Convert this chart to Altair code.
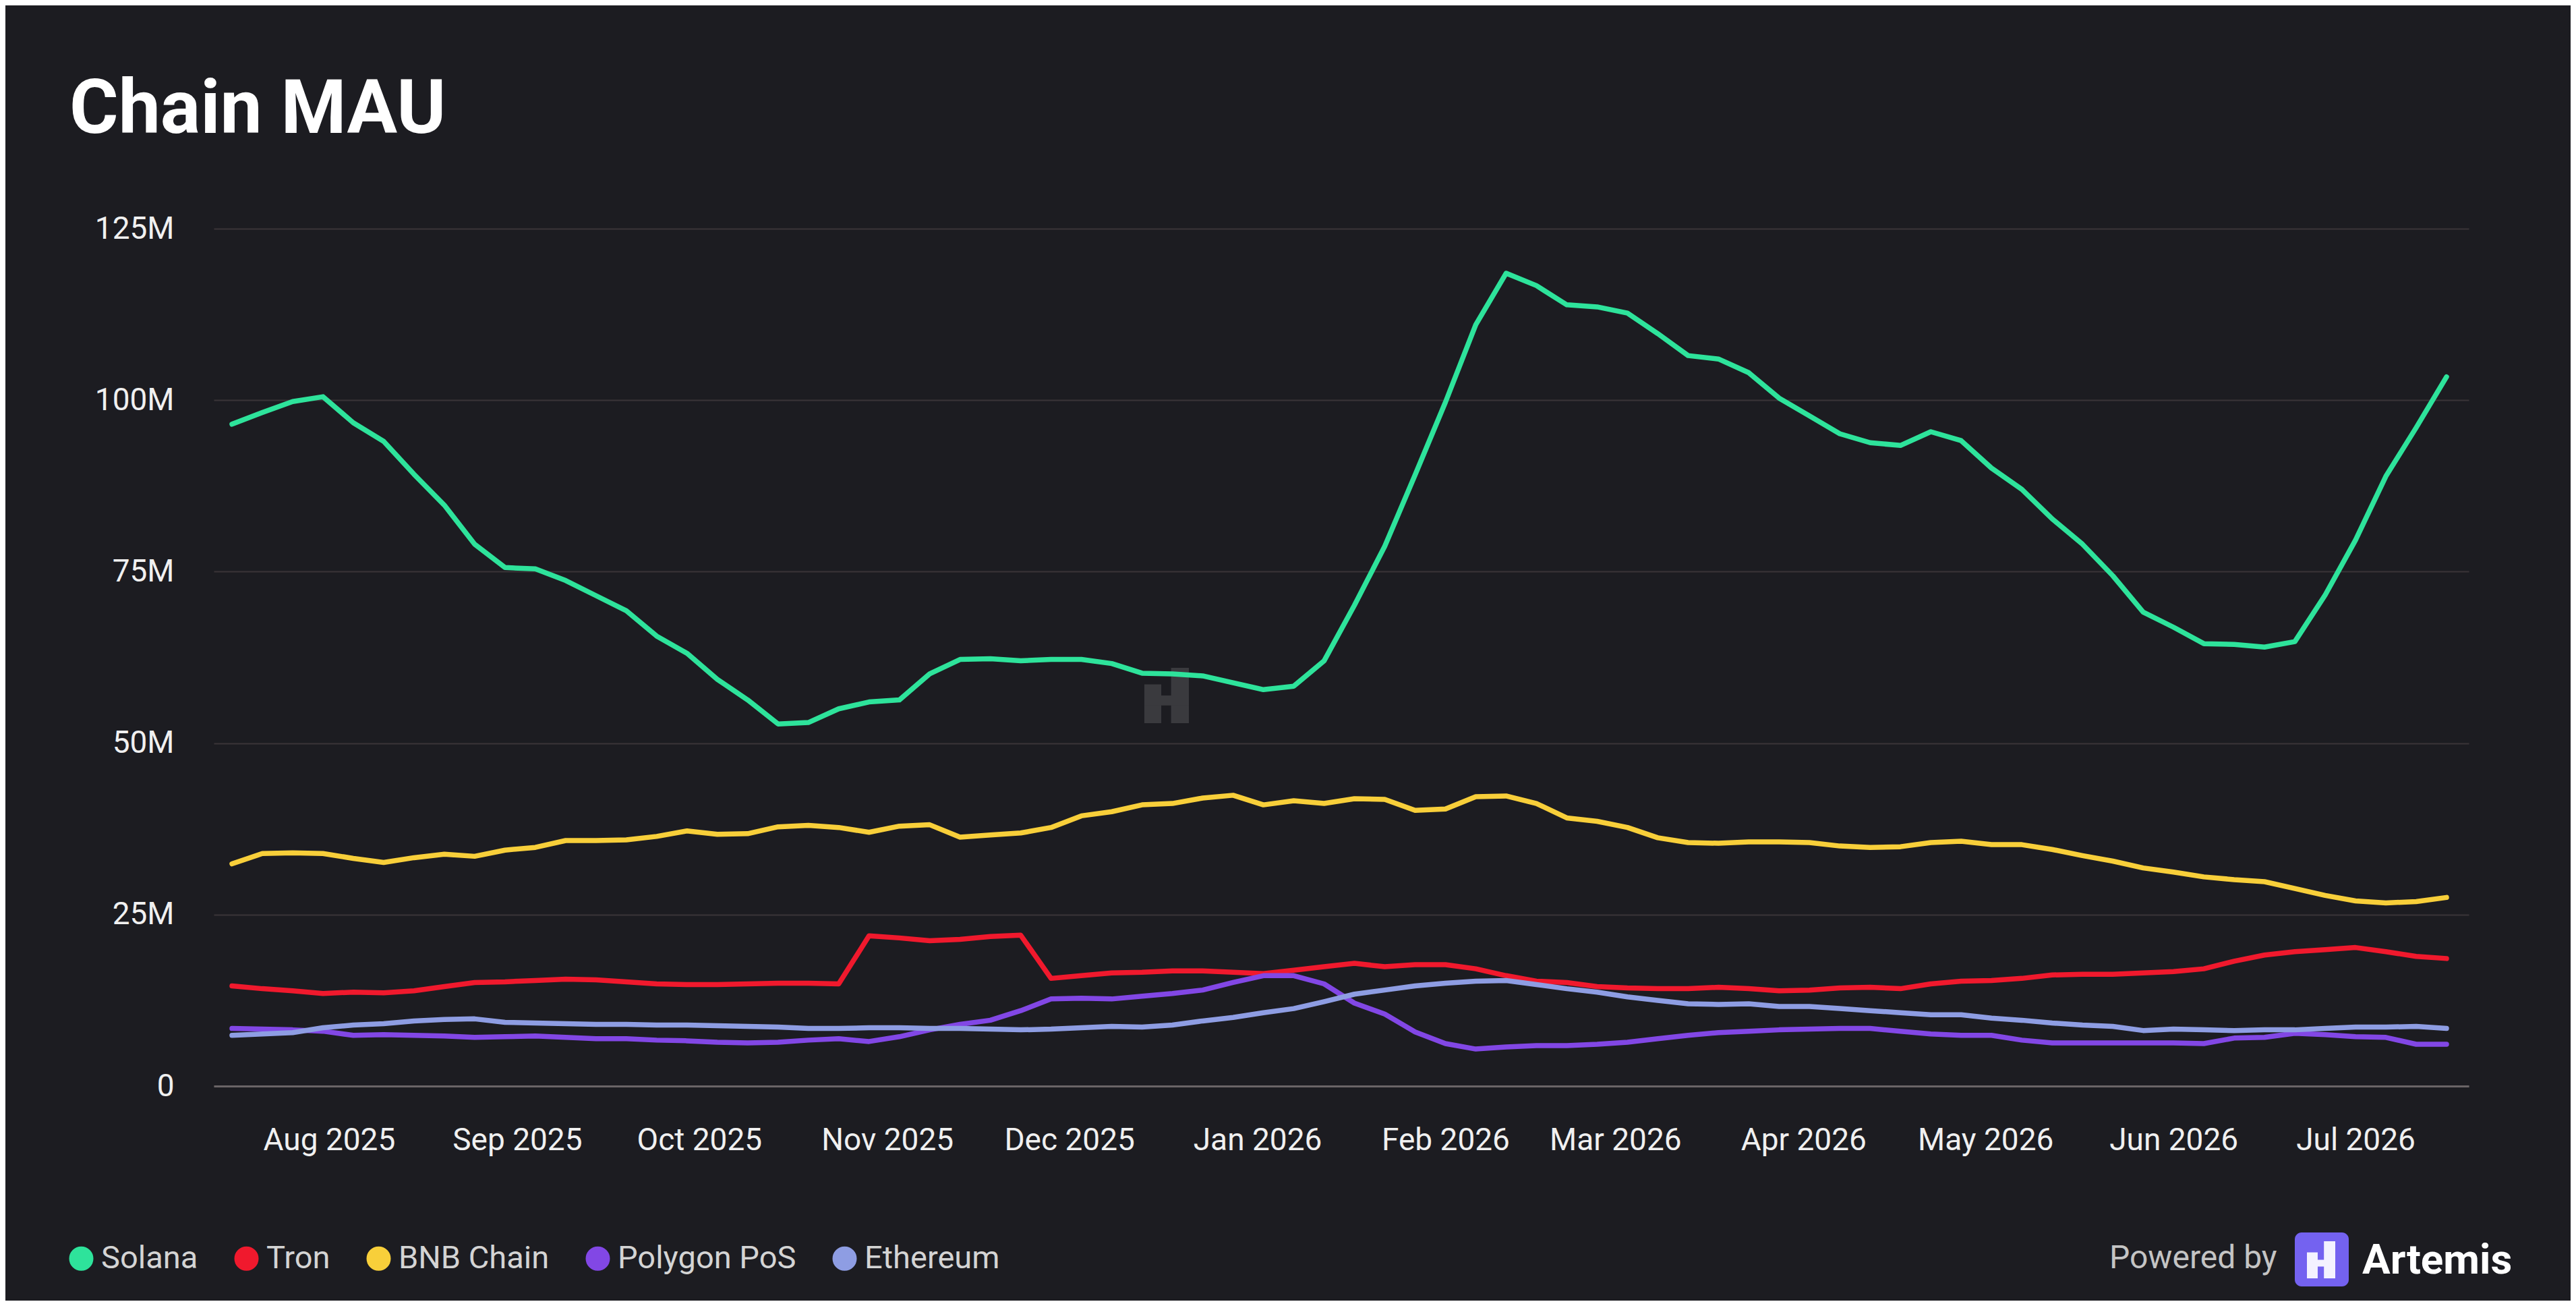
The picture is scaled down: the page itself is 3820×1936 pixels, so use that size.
import altair as alt
import pandas as pd

# ---------------- data (values in millions) ----------------
dates = pd.date_range("2025-07-16", periods=74, freq="5D").strftime("%Y-%m-%d").tolist()

series_names = ["Solana", "Tron", "BNB Chain", "Polygon PoS", "Ethereum"]
series_colors = ["#2ee39b", "#f0192d", "#f8cf3a", "#8247e5", "#8e9de3"]

solana = [96.5, 98.2, 99.8, 100.5, 96.7, 94.0, 89.2, 84.7, 79.0, 75.6,
          75.4, 73.7, 71.5, 69.3, 65.6, 63.1, 59.3, 56.3, 52.8, 53.0,
          55.0, 56.0, 56.3, 60.1, 62.2, 62.3, 62.0, 62.2, 62.2, 61.6,
          60.2, 60.1, 59.8, 58.8, 57.8, 58.3, 62.0, 70.1, 78.7, 89.1,
          99.7, 111.0, 118.5, 116.7, 113.9, 113.6, 112.7, 109.7, 106.5, 106.0,
          104.0, 100.3, 97.7, 95.1, 93.8, 93.4, 95.4, 94.1, 90.1, 87.0,
          82.7, 79.0, 74.4, 69.1, 66.9, 64.5, 64.4, 64.0, 64.8, 71.6,
          79.6, 88.9, 96.0, 103.4]

tron = [14.6, 14.2, 13.9, 13.5, 13.7, 13.6, 13.9, 14.5, 15.1, 15.2,
        15.4, 15.6, 15.5, 15.2, 14.9, 14.8, 14.8, 14.9, 15.0, 15.0,
        14.9, 21.9, 21.6, 21.2, 21.4, 21.8, 22.0, 15.7, 16.1, 16.5,
        16.6, 16.8, 16.8, 16.6, 16.4, 16.9, 17.4, 17.9, 17.4, 17.7,
        17.7, 17.1, 16.1, 15.3, 15.1, 14.5, 14.3, 14.2, 14.2, 14.4,
        14.2, 13.9, 14.0, 14.3, 14.4, 14.2, 14.9, 15.3, 15.4, 15.7,
        16.2, 16.3, 16.3, 16.5, 16.7, 17.1, 18.2, 19.1, 19.6, 19.9,
        20.2, 19.6, 18.9, 18.6]

bnb = [32.4, 33.9, 34.0, 33.9, 33.2, 32.6, 33.3, 33.8, 33.5, 34.4,
       34.8, 35.8, 35.8, 35.9, 36.4, 37.2, 36.7, 36.8, 37.8, 38.0,
       37.7, 37.0, 37.9, 38.1, 36.3, 36.6, 36.9, 37.7, 39.4, 40.0,
       41.0, 41.2, 42.0, 42.4, 41.0, 41.6, 41.2, 41.9, 41.8, 40.2,
       40.4, 42.2, 42.3, 41.2, 39.1, 38.6, 37.7, 36.2, 35.5, 35.4,
       35.6, 35.6, 35.5, 35.0, 34.8, 34.9, 35.5, 35.7, 35.2, 35.2,
       34.5, 33.6, 32.8, 31.8, 31.2, 30.5, 30.1, 29.8, 28.8, 27.8,
       27.0, 26.7, 26.9, 27.5]

polygon = [8.4, 8.3, 8.2, 8.0, 7.4, 7.5, 7.4, 7.3, 7.1, 7.2,
           7.3, 7.1, 6.9, 6.9, 6.7, 6.6, 6.4, 6.3, 6.4, 6.7,
           6.9, 6.5, 7.2, 8.2, 9.0, 9.6, 11.0, 12.7, 12.8, 12.7,
           13.1, 13.5, 14.0, 15.1, 16.1, 16.1, 14.9, 12.1, 10.5, 7.9,
           6.2, 5.4, 5.7, 5.9, 5.9, 6.1, 6.4, 6.9, 7.4, 7.8,
           8.0, 8.2, 8.3, 8.4, 8.4, 8.0, 7.6, 7.4, 7.4, 6.7,
           6.3, 6.3, 6.3, 6.3, 6.3, 6.2, 7.0, 7.1, 7.7, 7.5,
           7.2, 7.1, 6.1, 6.1]

ethereum = [7.4, 7.6, 7.8, 8.5, 8.9, 9.1, 9.5, 9.7, 9.8, 9.3,
            9.2, 9.1, 9.0, 9.0, 8.9, 8.9, 8.8, 8.7, 8.6, 8.4,
            8.4, 8.5, 8.5, 8.4, 8.4, 8.3, 8.2, 8.3, 8.5, 8.7,
            8.6, 8.9, 9.5, 10.0, 10.7, 11.3, 12.3, 13.4, 14.0, 14.6,
            15.0, 15.3, 15.4, 14.8, 14.2, 13.7, 13.0, 12.5, 12.0, 11.9,
            12.0, 11.6, 11.6, 11.3, 11.0, 10.7, 10.4, 10.4, 9.9, 9.6,
            9.2, 8.9, 8.7, 8.1, 8.3, 8.2, 8.1, 8.2, 8.2, 8.4,
            8.6, 8.6, 8.7, 8.4]

y_ticks = [0, 25, 50, 75, 100, 125]
title_text = "Chain MAU"
powered_text = "Powered by"
brand_text = "Artemis"

rows = []
for name, vals in zip(series_names, [solana, tron, bnb, polygon, ethereum]):
    for d, v in zip(dates, vals):
        rows.append({"date": d, "value": v, "chain": name})
df = pd.DataFrame(rows)

BG = "#1c1c21"
FONT = "Roboto"

# ---------------- main lines ----------------
lines = alt.Chart(df).mark_line(strokeWidth=7.5, strokeJoin="round", strokeCap="round").encode(
    x=alt.X(
        "date:T",
        title=None,
        scale=alt.Scale(
            type="utc",
            domain=[alt.DateTime(year=2025, month=7, date=13, utc=True),
                    alt.DateTime(year=2026, month=7, date=19, hours=16, utc=True)],
        ),
        axis=alt.Axis(
            labelExpr="utcFormat(datum.value, '%b %Y')",
            tickCount={"interval": "month", "step": 1},
            grid=False,
            ticks=False,
            domain=True,
            domainColor="#6a6466",
            domainWidth=3,
            labelFont=FONT,
            labelFontSize=46,
            labelColor="#f0f0f0",
            labelPadding=58,
            labelBaseline="top",
            labelAlign="center",
            labelOverlap=False,
            labelLimit=1000,
        ),
    ),
    y=alt.Y(
        "value:Q",
        title=None,
        scale=alt.Scale(domain=[0, 125], nice=False),
        axis=alt.Axis(
            values=y_ticks,
            labelExpr="datum.value == 0 ? '0' : datum.value + 'M'",
            grid=True,
            gridColor="#3a3438",
            gridWidth=2,
            ticks=False,
            domain=False,
            labelFont=FONT,
            labelFontSize=46,
            labelColor="#f0f0f0",
            labelPadding=59,
        ),
    ),
    color=alt.Color(
        "chain:N",
        scale=alt.Scale(domain=series_names, range=series_colors),
        legend=alt.Legend(
            title=None,
            orient="none",
            direction="horizontal",
            legendX=-220,
            legendY=1503,
            symbolType="circle",
            symbolSize=324,
            symbolStrokeWidth=18,
            labelFont=FONT,
            labelFontSize=47,
            labelColor="#d4d4d4",
            labelOffset=6,
            labelLimit=1000,
            columnPadding=26,
            padding=0,
        ),
    ),
    order=alt.Order("date:T"),
)

# ---------------- decorations ----------------
def text_layer(txt, x, y, size, weight="normal", color="#ffffff", align="left"):
    return alt.Chart(pd.DataFrame({"t": [txt]})).mark_text(
        align=align, baseline="alphabetic", font=FONT, fontSize=size,
        fontWeight=weight, color=color,
    ).encode(text="t:N", x=alt.value(x), y=alt.value(y))


def rect_layer(x0, x1, y0, y1, color, radius=0):
    return alt.Chart(pd.DataFrame({"k": [0]})).mark_rect(
        color=color, cornerRadius=radius
    ).encode(x=alt.value(x0), x2=alt.value(x1), y=alt.value(y0), y2=alt.value(y1))


def glyph(gx, gy, gw, gh, color):
    return [
        rect_layer(gx + 0.6 * gw, gx + gw, gy, gy + gh, color),
        rect_layer(gx, gx + 0.38 * gw, gy + 0.3 * gh, gy + gh, color),
        rect_layer(gx, gx + gw, gy + 0.5 * gh, gy + 0.68 * gh, color),
    ]

watermark = glyph(1380, 651, 66, 82, "#3a3a3e")

title = text_layer(title_text, -214, -142, 111, weight="bold")
powered = text_layer(powered_text, 2811, 1541, 48, color="#c4c4c4")
logo_box = rect_layer(3086, 3166, 1488, 1568, "#7462f0", radius=10)
logo_glyph = glyph(3104, 1501, 42, 55, "#f4f2ff")
brand = text_layer(brand_text, 3186, 1549, 62, weight="bold")

chart = alt.layer(
    *watermark, lines, title, powered, logo_box, *logo_glyph, brand
).properties(
    width=3344,
    height=1271,
    autosize=alt.AutoSizeParams(type="none"),
    padding={"left": 309, "top": 331, "right": 151, "bottom": 318},
    background=BG,
).configure_view(strokeWidth=0)

chart.save("out.html", embed_options={"renderer": "svg", "actions": False})
